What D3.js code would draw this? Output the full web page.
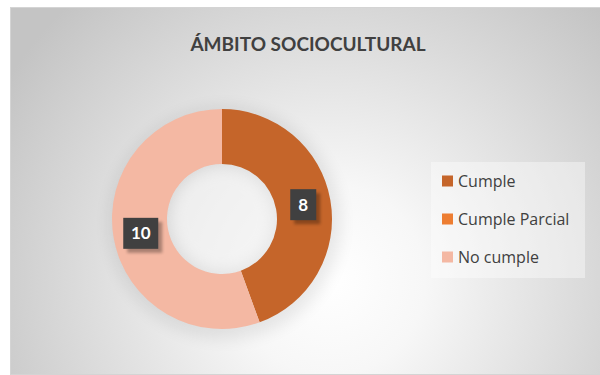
<!DOCTYPE html>
<html><head><meta charset="utf-8">
<script src="https://cdn.jsdelivr.net/npm/d3@7"></script>
<style>html,body{margin:0;padding:0;background:#fff;}svg{display:block;}</style>
</head><body>
<script>
const title = "ÁMBITO SOCIOCULTURAL";
const categories = ["Cumple", "Cumple Parcial", "No cumple"];
const values = [8, 0, 10];
const colors = ["#C5652A", "#ED7D31", "#F4B8A3"];

const W = 600, H = 375;
const svg = d3.select("body").append("svg").attr("width", W).attr("height", H);
const defs = svg.append("defs");
const grad = defs.append("radialGradient").attr("id", "bg")
  .attr("gradientUnits", "userSpaceOnUse").attr("cx", 330).attr("cy", 280).attr("r", 380);
grad.append("stop").attr("offset", "0%").attr("stop-color", "#ffffff");
grad.append("stop").attr("offset", "25%").attr("stop-color", "#f7f7f7");
grad.append("stop").attr("offset", "100%").attr("stop-color", "#c4c4c4");
const blur = defs.append("filter").attr("id", "sh").attr("x", "-30%").attr("y", "-30%").attr("width", "160%").attr("height", "160%");
blur.append("feGaussianBlur").attr("stdDeviation", 8);
const lblSh = defs.append("filter").attr("id", "lsh");
lblSh.append("feGaussianBlur").attr("stdDeviation", 1.5);

svg.append("rect").attr("x", 10.5).attr("y", 7.5).attr("width", W - 10).attr("height", H - 8)
  .attr("fill", "url(#bg)").attr("stroke", "#d4d4d4").attr("stroke-width", 1);

svg.append("text").attr("x", 308).attr("y", 51).attr("text-anchor", "middle")
  .attr("font-family", "Lato, 'Open Sans', sans-serif").attr("font-weight", "bold")
  .attr("font-size", 19).attr("fill", "#404040").text(title);

const cx = 222, cy = 219, rOut = 110, rIn = 55;
const data = categories.map((c, i) => ({ cat: c, value: values[i], color: colors[i] }));
const pie = d3.pie().value(d => d.value).sort(null);
const arc = d3.arc().innerRadius(rIn).outerRadius(rOut);
const labelArc = d3.arc().innerRadius((rIn + rOut) / 2).outerRadius((rIn + rOut) / 2);
const g = svg.append("g").attr("transform", `translate(${cx},${cy})`);

// soft shadow
g.append("circle").attr("r", rOut + 6).attr("cx", 3).attr("cy", 4).attr("fill", "#000").attr("opacity", 0.08).attr("filter", "url(#sh)");
g.append("circle").attr("r", rIn - 2).attr("fill", "#fff").attr("opacity", 0.6).attr("filter", "url(#sh)");

const arcs = pie(data);
g.selectAll("path.slice").data(arcs).join("path").attr("class", "slice")
  .attr("d", arc).attr("fill", d => d.data.color);

const lbls = g.selectAll("g.lbl").data(arcs.filter(d => d.data.value > 0)).join("g").attr("class", "lbl")
  .attr("transform", d => `translate(${labelArc.centroid(d)})`);
lbls.each(function (d) {
  const s = d3.select(this);
  const txt = String(d.data.value);
  const w = txt.length > 1 ? 35 : 26, h = 31;
  s.append("rect").attr("x", -w / 2 + 4).attr("y", -h / 2 + 4).attr("width", w).attr("height", h)
    .attr("fill", "#000").attr("opacity", 0.3).attr("filter", "url(#lsh)");
  s.append("rect").attr("x", -w / 2).attr("y", -h / 2).attr("width", w).attr("height", h).attr("fill", "#404040");
  s.append("text").attr("text-anchor", "middle").attr("dy", "0.36em")
    .attr("font-family", "Lato, 'Open Sans', sans-serif").attr("font-weight", "bold")
    .attr("font-size", 17).attr("fill", "#fff").text(txt);
});

// legend
svg.append("rect").attr("x", 431).attr("y", 162).attr("width", 154).attr("height", 116)
  .attr("fill", "#fff").attr("opacity", 0.4);
const ly = d3.scalePoint().domain(categories).range([181, 257]);
const leg = svg.selectAll("g.leg").data(data).join("g").attr("class", "leg")
  .attr("transform", d => `translate(442,${ly(d.cat)})`);
leg.append("rect").attr("x", 0).attr("y", -5.5).attr("width", 11).attr("height", 11).attr("fill", d => d.color);
leg.append("text").attr("x", 16).attr("dy", "0.35em")
  .attr("font-family", "'Open Sans', sans-serif").attr("font-size", 16).attr("fill", "#404040")
  .text(d => d.cat);
</script>
</body></html>
